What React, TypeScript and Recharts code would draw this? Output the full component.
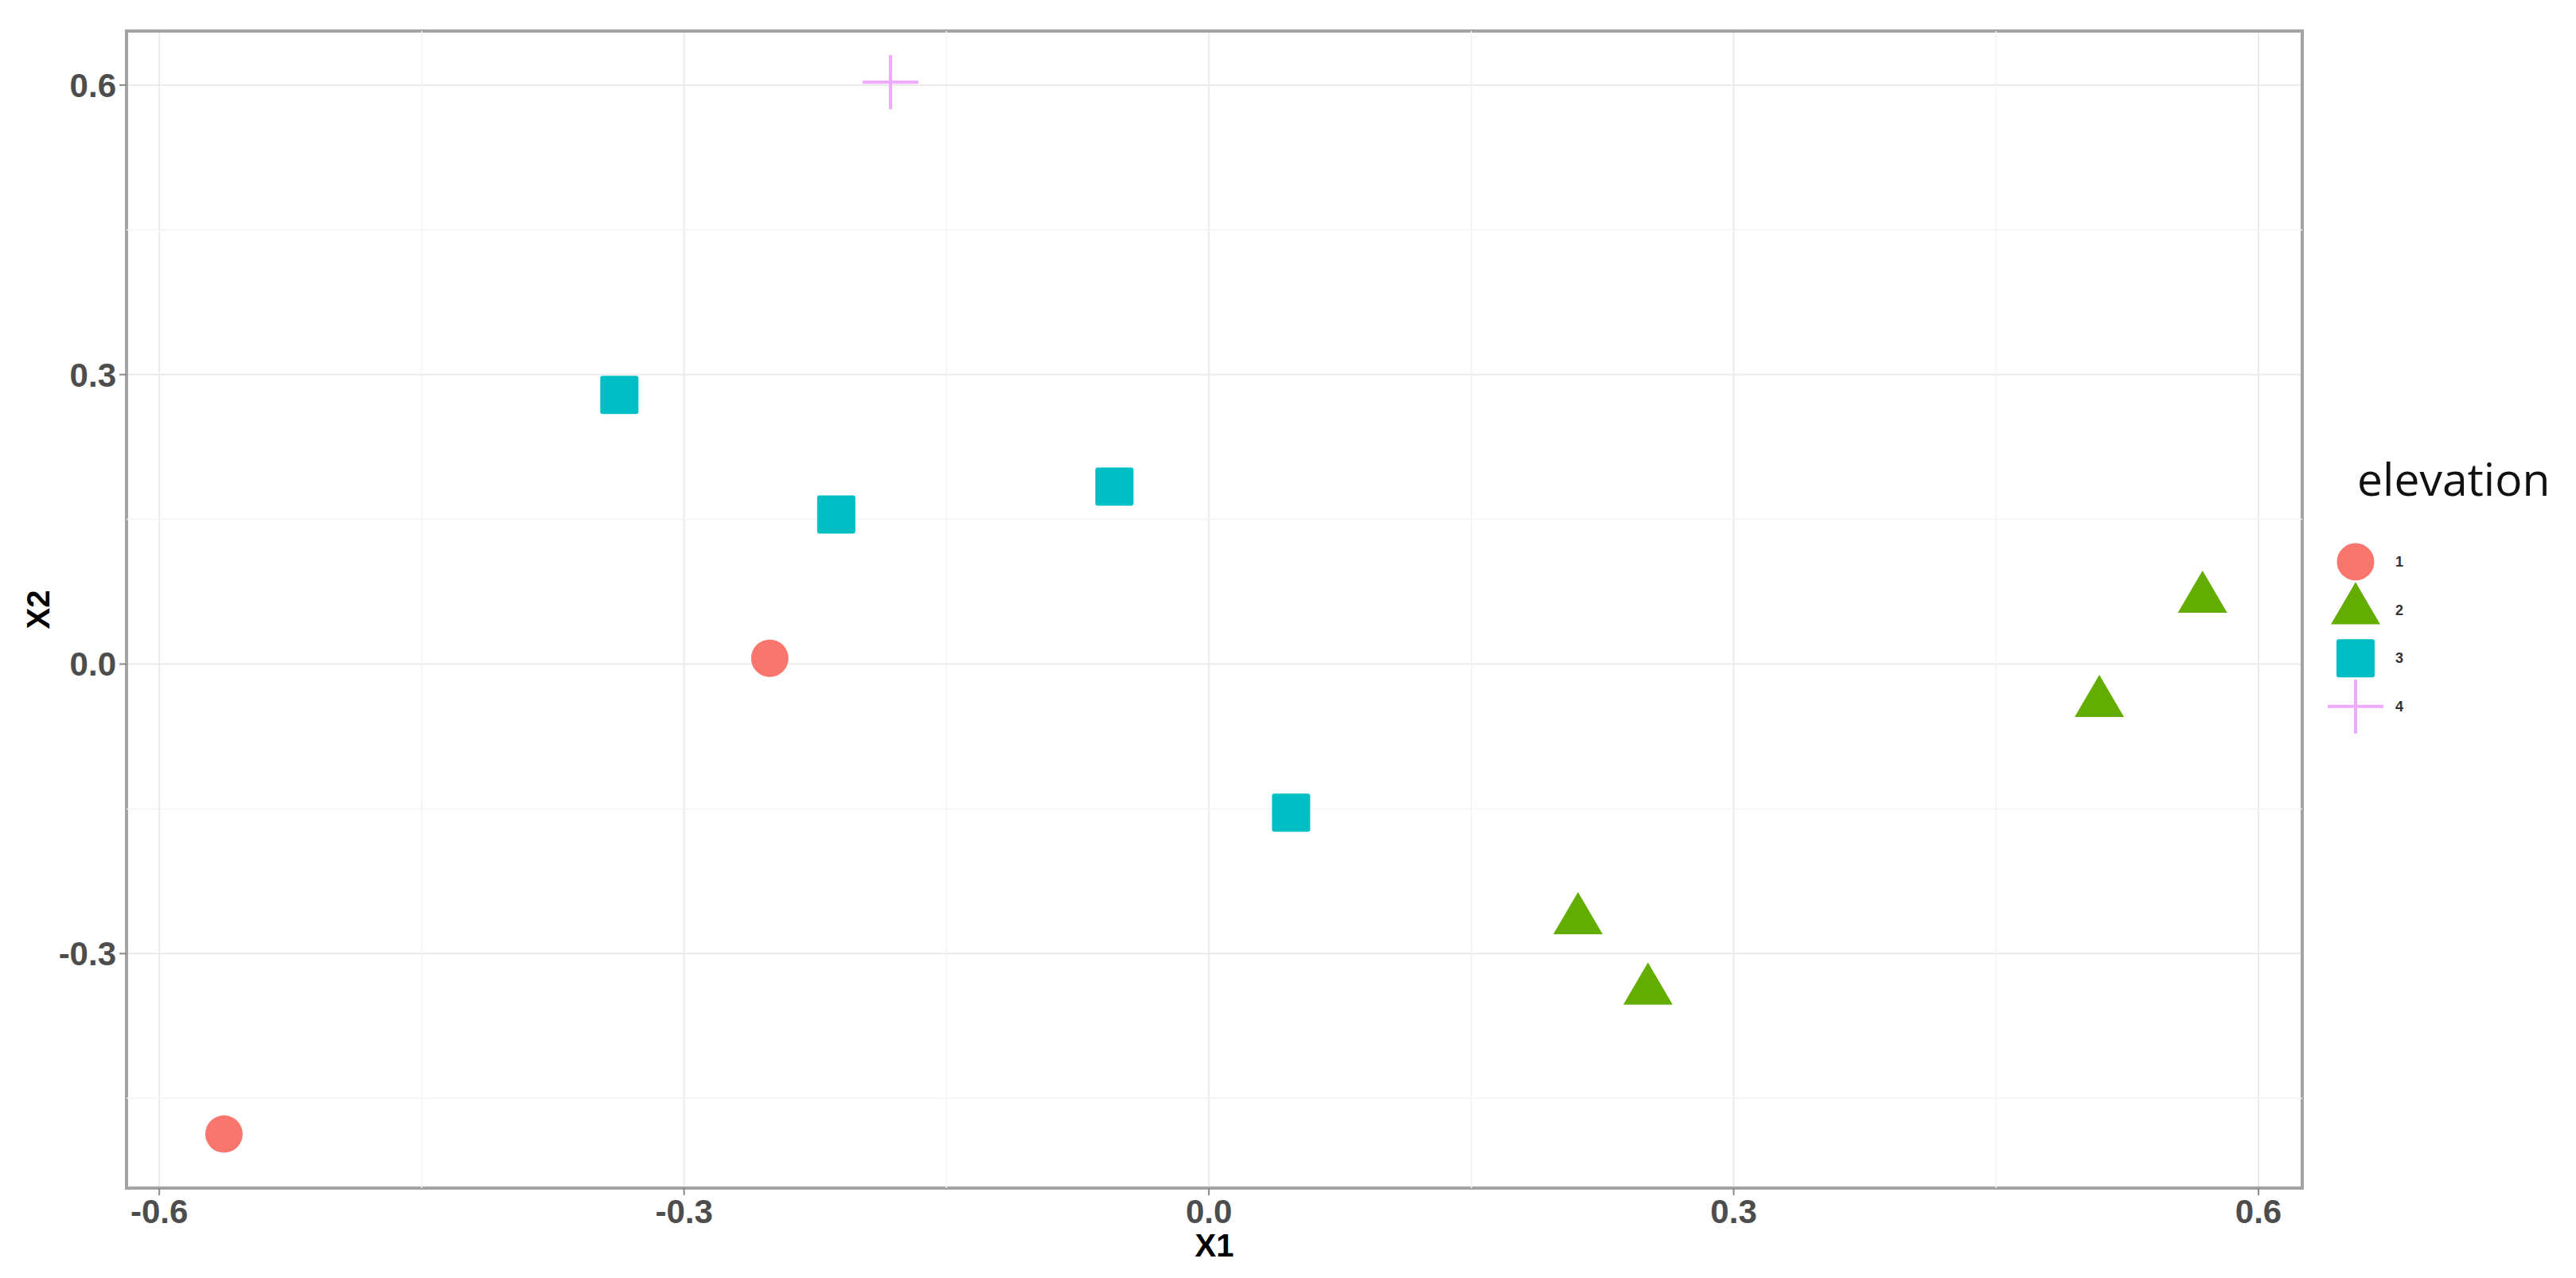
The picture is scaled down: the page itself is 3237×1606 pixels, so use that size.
import { ScatterChart, Scatter, XAxis, YAxis, CartesianGrid, ReferenceLine, ReferenceArea, Legend } from 'recharts';

// elevation groups and their colours (ggplot default hue palette, as seen in the picture)
const elevationLevels = ['1', '2', '3', '4'];
const levelColors = ['#F8766D', '#62AD00', '#00BFC4', '#EEAAFF'];
const levelShapes = ['circle', 'triangle', 'square', 'cross'];

// point coordinates
const level1X = [-0.563, -0.251];
const level1Y = [-0.487, 0.006];
const level2X = [0.568, 0.509, 0.211, 0.251];
const level2Y = [0.068, -0.04, -0.265, -0.338];
const level3X = [-0.337, -0.213, -0.054, 0.047];
const level3Y = [0.279, 0.155, 0.184, -0.154];
const level4X = [-0.182];
const level4Y = [0.603];

const xTicks = [-0.6, -0.3, 0, 0.3, 0.6];
const yTicks = [-0.3, 0, 0.3, 0.6];
const xMinor = [-0.45, -0.15, 0.15, 0.45];
const yMinor = [-0.45, -0.15, 0.15, 0.45];
const xDomain = [-0.6187, 0.625];
const yDomain = [-0.543, 0.656];

const groups = [
  { xs: level1X, ys: level1Y },
  { xs: level2X, ys: level2Y },
  { xs: level3X, ys: level3Y },
  { xs: level4X, ys: level4Y },
].map((g) => g.xs.map((x, i) => ({ x, y: g.ys[i] })));

function Marker({ kind, cx, cy, color }: { kind: string; cx: number; cy: number; color: string }) {
  if (kind === 'circle') return <circle cx={cx} cy={cy} r={23.5} fill={color} />;
  if (kind === 'square') return <rect x={cx - 24} y={cy - 24} width={48} height={48} rx={3} fill={color} />;
  if (kind === 'triangle') {
    const d = `M${cx},${cy - 35} L${cx + 31},${cy + 18} L${cx - 31},${cy + 18} Z`;
    return <path d={d} fill={color} />;
  }
  return (
    <g stroke={color} strokeWidth={4}>
      <line x1={cx - 35} y1={cy} x2={cx + 35} y2={cy} />
      <line x1={cx} y1={cy - 34} x2={cx} y2={cy + 34} />
    </g>
  );
}

function LegendBox() {
  return (
    <svg width={357} height={420}>
      <text x={82} y={83} fontSize={57} fontFamily="'Open Sans', sans-serif" fill="#111">
        elevation
      </text>
      {elevationLevels.map((lvl, i) => {
        const cy = 166 + i * 60.6;
        return (
          <g key={lvl}>
            <Marker kind={levelShapes[i]} cx={80} cy={cy} color={levelColors[i]} />
            <text x={130} y={cy + 6} fontSize={18} fontWeight={700} fill="#333" fontFamily="'Liberation Sans', Arial, sans-serif">
              {lvl}
            </text>
          </g>
        );
      })}
    </svg>
  );
}

const tickStyle = { fontSize: 42, fill: '#4D4D4D', fontWeight: 700, fontFamily: "'Liberation Sans', Arial, sans-serif" };

export default function App() {
  return (
    <div style={{ position: 'absolute', left: 0, top: 0, width: 3237, height: 1606, background: '#fff' }}>
      <ScatterChart
        width={3237}
        height={1606}
        margin={{ top: 39, right: 344, bottom: 0, left: 0 }}
        style={{ fontFamily: "'Liberation Sans', Arial, sans-serif" }}
      >
        <CartesianGrid stroke="#EBEBEB" strokeWidth={2} />
        {xMinor.map((v) => (
          <ReferenceLine key={`xm${v}`} x={v} stroke="#F3F3F3" strokeWidth={1.5} />
        ))}
        {yMinor.map((v) => (
          <ReferenceLine key={`ym${v}`} y={v} stroke="#F3F3F3" strokeWidth={1.5} />
        ))}
        <XAxis
          type="number"
          dataKey="x"
          domain={xDomain}
          ticks={xTicks}
          allowDataOverflow
          height={113}
          axisLine={false}
          tickSize={9}
          tickMargin={5}
          tickLine={{ stroke: '#8A8A8A', strokeWidth: 2 }}
          tick={tickStyle}
          tickFormatter={(v: number) => v.toFixed(1)}
          label={{ value: 'X1', position: 'insideBottom', offset: 27, style: { fontSize: 40, fontWeight: 700, fill: '#000' } }}
        />
        <YAxis
          type="number"
          dataKey="y"
          domain={yDomain}
          ticks={yTicks}
          allowDataOverflow
          width={159}
          axisLine={false}
          tickSize={9}
          tickMargin={4}
          tickLine={{ stroke: '#8A8A8A', strokeWidth: 2 }}
          tick={tickStyle}
          tickFormatter={(v: number) => v.toFixed(1)}
          label={(props: any) => {
            const vb = props.viewBox || { x: 0, y: 39, width: 159, height: 1454 };
            const lx = vb.x + 48;
            const ly = vb.y + vb.height / 2;
            return (
              <text x={lx} y={ly} transform={`rotate(-90 ${lx} ${ly})`} textAnchor="middle" dominantBaseline="central" fontSize={40} fontWeight={700} fill="#000">
                X2
              </text>
            );
          }}
        />
        <ReferenceArea
          x1={xDomain[0]}
          x2={xDomain[1]}
          y1={yDomain[0]}
          y2={yDomain[1]}
          fill="none"
          stroke="#A3A3A3"
          strokeWidth={4}
          ifOverflow="visible"
        />
        {groups.map((data, i) => (
          <Scatter
            key={elevationLevels[i]}
            name={elevationLevels[i]}
            data={data}
            fill={levelColors[i]}
            isAnimationActive={false}
            shape={(p: any) => <Marker kind={levelShapes[i]} cx={p.cx} cy={p.cy} color={levelColors[i]} />}
          />
        ))}
        <Legend
          layout="vertical"
          align="center"
          verticalAlign="middle"
          wrapperStyle={{ left: 2880, top: 540, width: 357, height: 420 }}
          content={() => <LegendBox />}
        />
      </ScatterChart>
    </div>
  );
}
